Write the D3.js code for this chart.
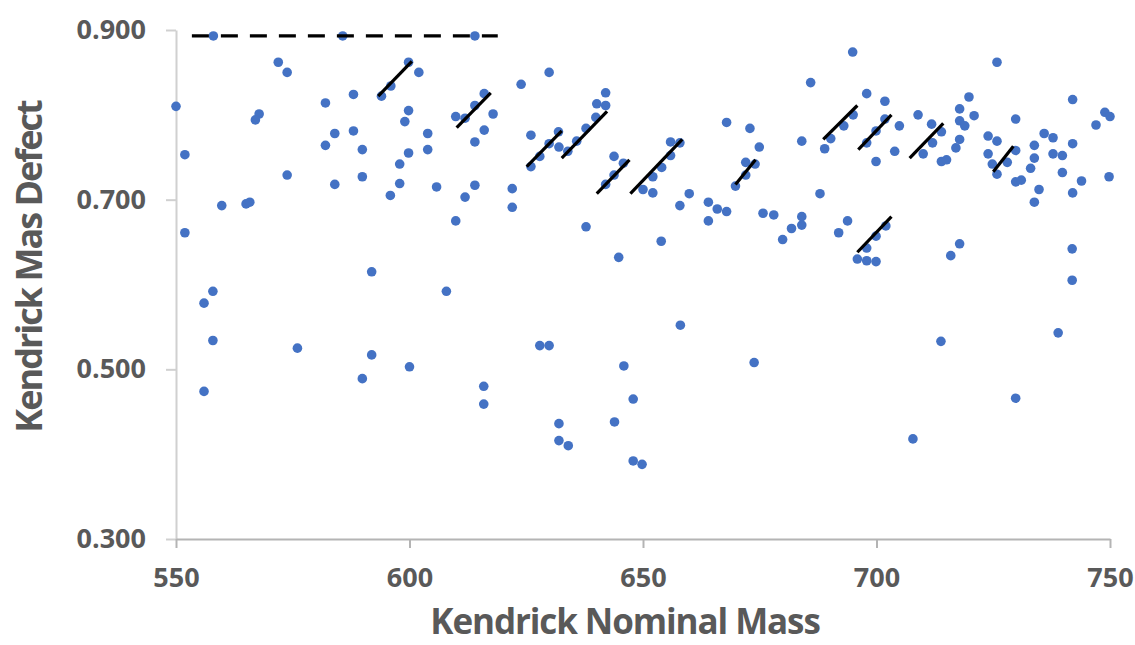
<!DOCTYPE html>
<html>
<head>
<meta charset="utf-8">
<script src="https://cdn.jsdelivr.net/npm/d3@7"></script>
<style>
  html, body { margin: 0; padding: 0; background: #ffffff; }
  svg { display: block; }
  text { font-family: "Open Sans", "Noto Sans", sans-serif; font-weight: 700; fill: #595959; }
</style>
</head>
<body>
<svg id="chart" width="1135" height="645"></svg>
<script>
// Kendrick nominal mass (x) and Kendrick mass defect (y) for every point
const kendrickMass = [
  558.0, 585.7, 550.0, 551.9, 571.9, 573.8, 567.8, 567.0, 573.8, 559.8,
  565.0, 565.8, 582.0, 588.0, 584.0, 588.0, 582.0, 589.9, 589.9, 584.0,
  594.0, 596.0, 599.8, 599.8, 599.0, 599.8, 597.9, 597.9, 595.9, 602.0,
  614.0, 603.9, 603.9, 605.8, 609.9, 611.9, 614.0, 616.0, 617.9, 616.0,
  614.0, 614.0, 611.9, 622.0, 622.0, 609.9, 623.9, 629.9, 626.0, 631.9,
  629.9, 632.0, 627.9, 626.0, 633.9, 635.8, 637.8, 639.9, 640.1, 642.0,
  642.0, 643.8, 643.8, 642.0, 645.8, 650.0, 652.1, 652.1, 654.0, 655.9,
  655.9, 657.9, 659.9, 657.9, 664.0, 665.9, 667.9, 664.0, 653.9, 667.9,
  672.9, 674.9, 672.0, 674.0, 672.0, 669.8, 675.7, 678.0, 684.0, 685.9,
  684.0, 684.0, 681.8, 679.9, 687.9, 688.9, 690.2, 693.0, 695.0, 694.9,
  697.9, 701.8, 701.8, 699.9, 697.9, 699.9, 693.8, 691.9, 695.9, 697.9,
  699.9, 697.9, 699.9, 702.0, 658.0, 673.8, 649.8, 637.8, 644.8, 607.9,
  627.9, 629.9, 600.0, 645.9, 615.9, 615.9, 647.9, 643.9, 632.0, 632.0,
  634.0, 647.9, 551.9, 591.9, 557.9, 556.0, 557.9, 576.0, 591.9, 589.9,
  556.0, 704.9, 703.9, 708.9, 711.8, 713.9, 712.0, 710.0, 713.9, 715.0,
  717.0, 717.8, 717.8, 718.9, 717.8, 719.8, 720.9, 725.8, 723.9, 725.8,
  723.9, 724.8, 725.8, 728.0, 729.8, 729.8, 729.8, 731.0, 733.8, 733.8,
  733.0, 734.8, 733.8, 735.9, 737.8, 737.8, 739.8, 739.8, 742.0, 742.0,
  742.0, 743.9, 747.0, 748.9, 750.0, 749.8, 717.8, 715.9, 741.9, 741.9,
  738.9, 713.8, 729.8, 707.8
];
const massDefect = [
  0.893, 0.893, 0.810, 0.753, 0.862, 0.850, 0.801, 0.794, 0.729, 0.693,
  0.695, 0.697, 0.814, 0.824, 0.778, 0.781, 0.764, 0.759, 0.727, 0.718,
  0.822, 0.834, 0.862, 0.805, 0.792, 0.755, 0.742, 0.719, 0.705, 0.850,
  0.893, 0.778, 0.759, 0.715, 0.798, 0.796, 0.811, 0.825, 0.801, 0.782,
  0.768, 0.717, 0.703, 0.713, 0.691, 0.675, 0.836, 0.850, 0.776, 0.780,
  0.766, 0.762, 0.751, 0.739, 0.757, 0.769, 0.784, 0.797, 0.813, 0.811,
  0.826, 0.751, 0.729, 0.718, 0.743, 0.712, 0.708, 0.727, 0.738, 0.752,
  0.768, 0.767, 0.707, 0.693, 0.697, 0.689, 0.686, 0.675, 0.651, 0.791,
  0.784, 0.762, 0.744, 0.742, 0.729, 0.716, 0.684, 0.682, 0.769, 0.838,
  0.680, 0.670, 0.666, 0.653, 0.707, 0.760, 0.772, 0.787, 0.800, 0.874,
  0.825, 0.816, 0.795, 0.781, 0.767, 0.745, 0.675, 0.661, 0.630, 0.628,
  0.627, 0.643, 0.657, 0.669, 0.552, 0.508, 0.388, 0.668, 0.632, 0.592,
  0.528, 0.528, 0.503, 0.504, 0.480, 0.459, 0.465, 0.438, 0.436, 0.416,
  0.410, 0.392, 0.661, 0.615, 0.592, 0.578, 0.534, 0.525, 0.517, 0.489,
  0.474, 0.787, 0.757, 0.800, 0.789, 0.780, 0.767, 0.754, 0.745, 0.747,
  0.761, 0.771, 0.793, 0.787, 0.807, 0.821, 0.799, 0.862, 0.775, 0.769,
  0.754, 0.742, 0.730, 0.744, 0.795, 0.758, 0.721, 0.723, 0.764, 0.749,
  0.737, 0.712, 0.697, 0.778, 0.773, 0.754, 0.752, 0.732, 0.818, 0.766,
  0.708, 0.722, 0.788, 0.803, 0.798, 0.727, 0.648, 0.634, 0.642, 0.605,
  0.543, 0.533, 0.466, 0.418
];

// Homologous-series trend segments (start / end)
const segMass0   = [593.3, 610.1, 625.1, 632.6, 640.1, 647.3, 669.8, 688.6, 696.1, 707.1, 725.0, 695.9];
const segDefect0 = [0.822, 0.785, 0.739, 0.749, 0.707, 0.707, 0.718, 0.771, 0.759, 0.749, 0.733, 0.638];
const segMass1   = [600.5, 617.4, 632.6, 642.3, 647.1, 658.4, 674.1, 695.9, 703.2, 714.3, 729.3, 703.2];
const segDefect1 = [0.863, 0.826, 0.781, 0.804, 0.747, 0.771, 0.747, 0.811, 0.800, 0.790, 0.763, 0.680];

// Dashed reference line
const dashMass = [553.4, 618.9];
const dashDefect = [0.893, 0.893];

// Axis ticks
const xTicks = [550, 600, 650, 700, 750];
const yTicks = [0.3, 0.5, 0.7, 0.9];
const xTitle = "Kendrick Nominal Mass";
const yTitle = "Kendrick Mas Defect";

const svg = d3.select("#chart");
const x = d3.scaleLinear().domain([550, 750]).range([176, 1110]);
const y = d3.scaleLinear().domain([0.3, 0.9]).range([539, 30]);

// Y axis
const yAxis = svg.append("g")
  .attr("transform", "translate(176,0)")
  .call(d3.axisLeft(y).tickValues(yTicks).tickFormat(d3.format(".3f")).tickSize(10).tickSizeOuter(0).tickPadding(20));
yAxis.select(".domain").attr("stroke", "#d0d0d0").attr("stroke-width", 2);
yAxis.selectAll(".tick line").attr("stroke", "#d0d0d0").attr("stroke-width", 2);
yAxis.selectAll(".tick text").attr("font-size", 27).attr("fill", "#595959")
  .attr("font-family", "'Open Sans', sans-serif").attr("font-weight", 700);

// X axis
const xAxis = svg.append("g")
  .attr("transform", "translate(0,539)")
  .call(d3.axisBottom(x).tickValues(xTicks).tickFormat(d3.format("d")).tickSize(9).tickSizeOuter(0).tickPadding(20));
xAxis.select(".domain").attr("stroke", "#b4b4b4").attr("stroke-width", 2);
xAxis.selectAll(".tick line").attr("stroke", "#b4b4b4").attr("stroke-width", 2);
xAxis.selectAll(".tick text").attr("font-size", 27).attr("fill", "#595959")
  .attr("font-family", "'Open Sans', sans-serif").attr("font-weight", 700);

// Points
svg.append("g").selectAll("circle")
  .data(kendrickMass.map((m, i) => [m, massDefect[i]]))
  .join("circle")
  .attr("cx", d => x(d[0]))
  .attr("cy", d => y(d[1]))
  .attr("r", 4.8)
  .attr("fill", "#4472C4");

// Dashed line
svg.append("line")
  .attr("x1", x(dashMass[0])).attr("y1", y(dashDefect[0]))
  .attr("x2", x(dashMass[1])).attr("y2", y(dashDefect[1]))
  .attr("stroke", "#000").attr("stroke-width", 3.2).attr("stroke-dasharray", "17 12");

// Trend segments
svg.append("g").selectAll("line")
  .data(segMass0.map((m, i) => i))
  .join("line")
  .attr("x1", i => x(segMass0[i])).attr("y1", i => y(segDefect0[i]))
  .attr("x2", i => x(segMass1[i])).attr("y2", i => y(segDefect1[i]))
  .attr("stroke", "#000").attr("stroke-width", 3.2);

// Axis titles
svg.append("text")
  .attr("x", 625).attr("y", 634)
  .attr("text-anchor", "middle")
  .attr("font-size", 35)
  .attr("letter-spacing", -1.1)
  .text(xTitle);
svg.append("text")
  .attr("transform", "translate(42,267) rotate(-90)")
  .attr("text-anchor", "middle")
  .attr("font-size", 36)
  .attr("letter-spacing", -2)
  .text(yTitle);
</script>
</body>
</html>
